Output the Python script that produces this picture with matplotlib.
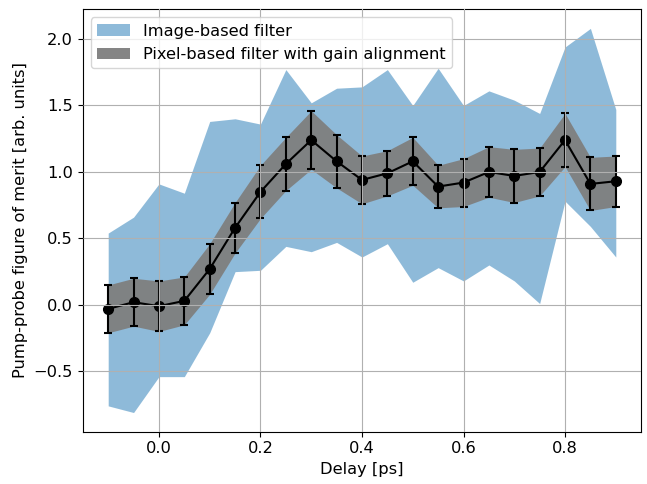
import numpy as np
import matplotlib.pyplot as plt

# pump-probe delay steps
delay = [-0.10, -0.05, 0.00, 0.05, 0.10, 0.15, 0.20, 0.25, 0.30, 0.35, 0.40,
         0.45, 0.50, 0.55, 0.60, 0.65, 0.70, 0.75, 0.80, 0.85, 0.90]

# image-based filter spread (lower / upper bounds)
image_low = [-0.76, -0.81, -0.54, -0.54, -0.21, 0.25, 0.26, 0.44, 0.40, 0.47, 0.36,
             0.46, 0.17, 0.28, 0.18, 0.30, 0.18, 0.01, 0.78, 0.59, 0.36]
image_high = [0.54, 0.66, 0.91, 0.84, 1.38, 1.40, 1.36, 1.77, 1.52, 1.63, 1.64,
              1.77, 1.50, 1.78, 1.50, 1.61, 1.54, 1.44, 1.94, 2.08, 1.47]

# pixel-based filter with gain alignment: mean and error
pixel_mean = [-0.03, 0.02, -0.01, 0.03, 0.27, 0.58, 0.85, 1.06, 1.24, 1.08, 0.94,
              0.99, 1.08, 0.89, 0.92, 1.00, 0.97, 1.00, 1.24, 0.91, 0.93]
pixel_err = [0.18, 0.18, 0.19, 0.18, 0.19, 0.19, 0.20, 0.20, 0.22, 0.20, 0.18,
             0.17, 0.18, 0.16, 0.18, 0.19, 0.20, 0.18, 0.20, 0.20, 0.19]

plt.rcParams['font.size'] = 11.7

x = np.array(delay)
m = np.array(pixel_mean)
e = np.array(pixel_err)

fig = plt.figure(figsize=(6.47, 4.84), dpi=100)
ax = fig.add_axes([0.128, 0.108, 0.863, 0.873])

ax.fill_between(x, image_low, image_high, color='C0', alpha=0.5, linewidth=0,
                label='Image-based filter')
ax.fill_between(x, m - e, m + e, color='#7f7f7f', alpha=0.95, linewidth=0,
                label='Pixel-based filter with gain alignment')
ax.errorbar(x, m, yerr=e, color='k', marker='o', markersize=7, linewidth=1.5,
            capsize=3, elinewidth=1.5, capthick=1.5)

ax.set_xticks([0.0, 0.2, 0.4, 0.6, 0.8])
ax.set_yticks([-0.5, 0.0, 0.5, 1.0, 1.5, 2.0])
ax.grid(True, color='#b0b0b0', linewidth=0.8)
ax.set_axisbelow(False)
ax.set_xlabel('Delay [ps]')
ax.set_ylabel('Pump-probe figure of merit [arb. units]')
ax.legend(loc='upper left')

fig.savefig('out.png', dpi=100)
